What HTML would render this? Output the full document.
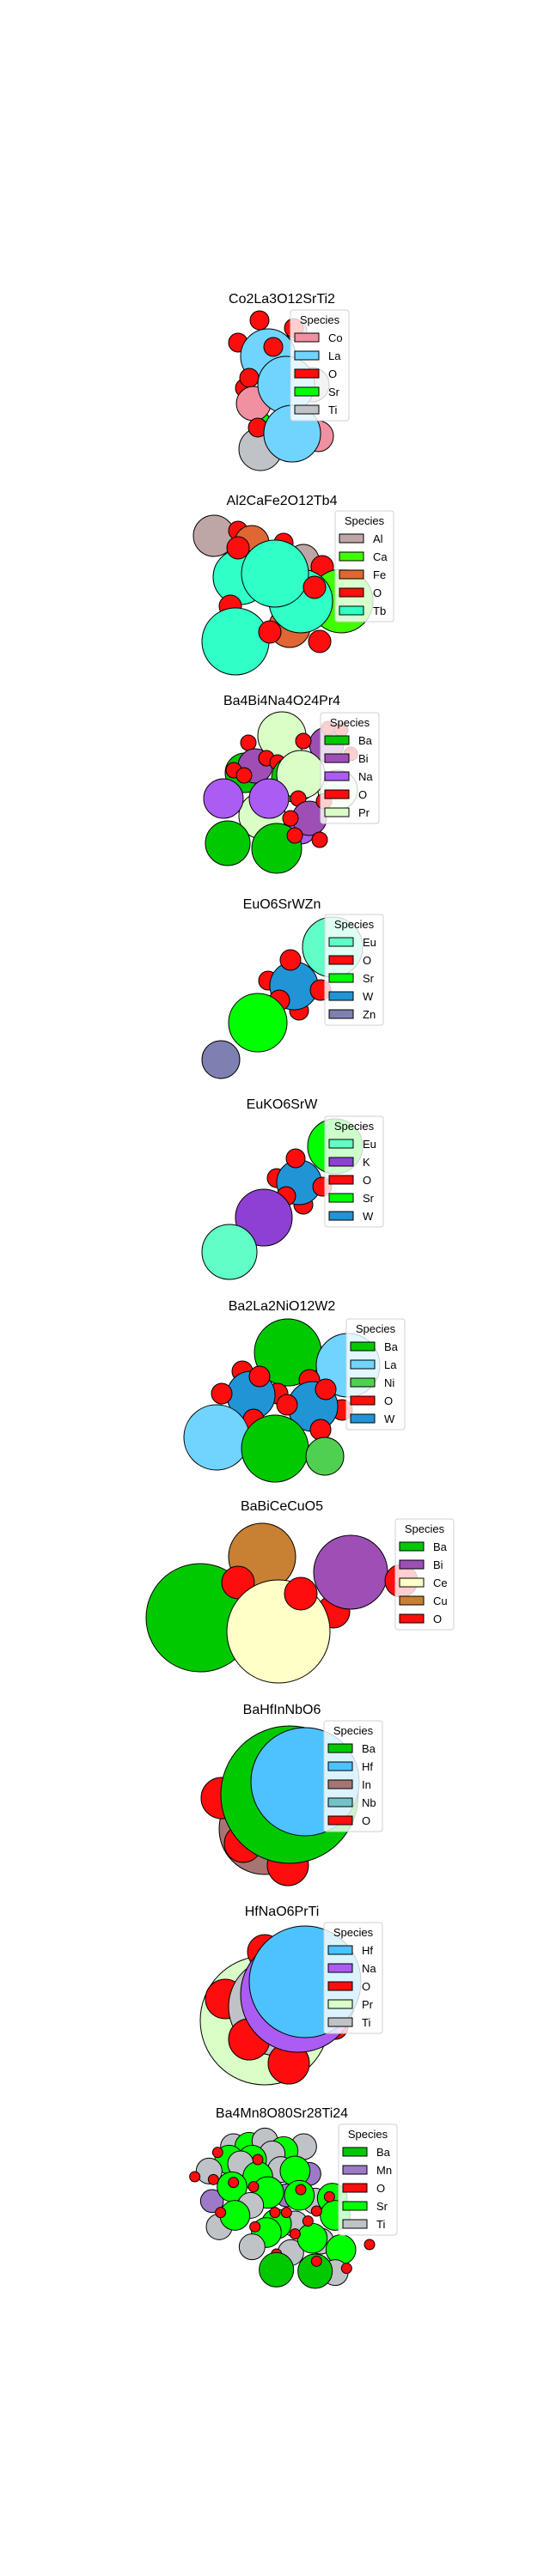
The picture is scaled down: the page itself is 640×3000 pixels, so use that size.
<!DOCTYPE html>
<html><head><meta charset="utf-8"><style>
html,body{margin:0;padding:0;background:#fff;}
svg{display:block;font-family:"Liberation Sans","DejaVu Sans",sans-serif;}
</style></head><body>
<svg id="fig" width="640" height="3000" viewBox="0 0 640 3000" xmlns="http://www.w3.org/2000/svg"></svg>
<script>
const colors={O:'#ff0d0d',La:'#70d4ff',Co:'#f090a0',Sr:'#00ff00',Ti:'#bfc2c7',Al:'#bfa6a6',Ca:'#3dff00',Fe:'#e06633',Tb:'#30ffc7',Ba:'#00c900',Bi:'#9e4fb5',Na:'#ab5cf2',Pr:'#d9ffc7',Eu:'#61ffc7',W:'#2194d6',Zn:'#7d80b0',K:'#8f40d4',Ni:'#50d050',Ce:'#ffffc7',Cu:'#c88033',Hf:'#4dc2ff',In:'#a67573',Nb:'#73c2c9',Mn:'#9c7ac7'};

const titles=['Co2La3O12SrTi2','Al2CaFe2O12Tb4','Ba4Bi4Na4O24Pr4','EuO6SrWZn','EuKO6SrW','Ba2La2NiO12W2','BaBiCeCuO5','BaHfInNbO6','HfNaO6PrTi','Ba4Mn8O80Sr28Ti24'];
const titleY=[347,582,815,1052,1285,1520,1753,1990,2225,2460];
const species=[['Co','La','O','Sr','Ti'],['Al','Ca','Fe','O','Tb'],['Ba','Bi','Na','O','Pr'],['Eu','O','Sr','W','Zn'],['Eu','K','O','Sr','W'],['Ba','La','Ni','O','W'],['Ba','Bi','Ce','Cu','O'],['Ba','Hf','In','Nb','O'],['Hf','Na','O','Pr','Ti'],['Ba','Mn','O','Sr','Ti']];
const legendBox=[[338,361],[390,595],[373,830],[378,1065],[378,1300],[403,1536],[460,1769],[377,2004],[377,2239],[394,2474]];

const atoms0=[['Co',345,385,12],['Ti',363,448,20],['Co',370,508,18],['Sr',308,487,5],['Ti',303,523,25],['O',302,373,11],['O',277,399,11],['O',342,382,11],['La',312,415,32],['O',318,404,11],['O',285,452,11],['O',290,440,11],['Co',295,470,20],['La',333,448,33],['O',300,498,11],['La',340,505,33]];
const atoms1=[['Al',249,624,24],['O',277,618,11],['Fe',293,632,20],['O',330,632,11],['Al',353,652,18],['Tb',280,672,32],['O',277,638,13],['O',375,660,13],['Ca',397,700,37],['Fe',337,730,24],['Tb',350,700,37],['Tb',320,668,39],['O',366,684,13],['O',268,706,13],['Tb',274,747,39],['O',314,736,13],['O',372,747,13]];
const atoms2=[['Pr',328,857,28],['Bi',380,867,20],['O',382,848,8],['O',397,850,8],['O',408,878,8],['O',289,865,9],['O',353,863,9],['Ba',285,900,23],['Bi',297,892,20],['O',310,883,9],['O',272,897,9],['O',284,903,9],['O',323,888,9],['Ba',343,907,27],['Pr',393,920,23],['Pr',350,902,28],['Pr',305,950,27],['Na',260,930,23],['Na',313,930,23],['O',347,930,9],['Na',350,965,18],['Bi',360,953,20],['O',338,953,9],['O',377,933,9],['Ba',265,982,26],['Ba',322,988,29],['O',343,973,9],['O',372,978,9]];
const atoms3=[['Eu',387,1103,35],['O',312,1142,11],['O',348,1177,11],['W',342,1148,28],['O',338,1118,12],['O',373,1153,12],['O',325,1165,12],['Sr',300,1191,34],['Zn',257,1234,22]];
const atoms4=[['Sr',390,1335,32],['O',322,1372,11],['O',353,1403,11],['W',348,1377,26],['O',344,1349,11],['O',375,1382,11],['O',333,1393,11],['K',307,1418,33],['Eu',267,1458,32]];
const atoms5=[['Ba',335,1575,39],['La',405,1590,37],['O',282,1597,12],['O',360,1607,12],['O',323,1623,12],['W',292,1625,28],['O',302,1603,12],['O',258,1623,12],['O',398,1642,12],['W',364,1638,29],['O',379,1618,12],['O',334,1636,12],['O',295,1653,12],['O',373,1665,12],['La',252,1674,38],['Ba',320,1687,39],['Ni',378,1696,22]];
const atoms6=[['Cu',305,1813,39],['Ba',233,1884,63],['O',277,1843,19],['O',388,1877,19],['Bi',408,1831,43],['O',467,1841,19],['Ce',324,1900,60],['O',350,1856,19]];
const atoms7=[['In',308,2130,53],['O',258,2094,24],['O',283,2147,22],['O',335,2172,24],['Ba',337,2090,80],['Hf',355,2075,63]];
const atoms8=[['Pr',308,2353,75],['O',308,2273,20],['O',262,2328,23],['Ti',323,2337,57],['O',390,2360,15],['O',290,2375,24],['O',336,2403,24],['Na',347,2323,67],['Hf',355,2308,65]];
// panel 10 in local zoom units (x3), placed with offset
const atoms9=[['Ti',245,180,45],['Sr',300,180,50],['Ti',355,160,45],['Ti',490,180,45],['Sr',420,195,50],['Ti',380,205,45],['Sr',230,225,50],['Sr',310,225,50],['Ti',270,240,45],['Ti',160,265,45],['Mn',510,275,40],['Ti',410,260,45],['Sr',460,265,52],['Sr',330,285,52],['Ti',530,370,45],['Sr',590,360,52],['Mn',170,370,40],['Mn',430,350,40],['Sr',240,320,52],['Sr',365,340,55],['Ti',305,385,45],['Sr',475,350,52],['Ti',195,460,45],['Sr',250,420,52],['Ti',460,450,45],['Sr',600,420,52],['Sr',395,450,52],['Sr',360,480,52],['Ti',310,530,45],['Ti',550,510,45],['Sr',620,540,52],['Ti',445,550,45],['Sr',520,500,52],['Ti',600,620,45],['O',190,200,18],['O',110,285,18],['O',175,295,18],['O',245,305,18],['O',315,320,18],['O',330,225,18],['O',390,410,18],['O',320,460,18],['O',460,485,18],['O',535,405,18],['O',505,440,18],['O',580,355,18],['O',720,522,18],['O',640,605,18],['O',395,555,18],['O',480,330,18],['O',200,410,18],['O',430,410,18],['Ba',395,610,60],['Ba',530,615,60],['O',535,580,18]];
const atomSets=[atoms0,atoms1,atoms2,atoms3,atoms4,atoms5,atoms6,atoms7,atoms8,atoms9];
const transforms=[[0,0,1],[0,0,1],[0,0,1],[0,0,1],[0,0,1],[0,0,1],[0,0,1],[0,0,1],[0,0,1],[190,2440,1/3]];

const NS='http://www.w3.org/2000/svg';
const svg=document.getElementById('fig');
function mk(tag,attrs,parent){const e=document.createElementNS(NS,tag);for(const k in attrs)e.setAttribute(k,attrs[k]);parent.appendChild(e);return e;}

titles.forEach((t,i)=>{
  const g=mk('g',{},svg);
  
  
  const tt=mk('text',{x:328,y:titleY[i]+6,'text-anchor':'middle','font-size':16,fill:'#000'},g);
  tt.textContent=t;
  
  
  const [ox,oy,s]=transforms[i];
  atomSets[i].forEach(a=>{
    const c=mk('circle',{cx:ox+a[1]*s,cy:oy+a[2]*s,r:a[3]*s,fill:colors[a[0]],stroke:'#000','stroke-width':1},g);
    
    
  });
  const [lx,ly]=legendBox[i];
  const lg=mk('g',{},g);
  
  
  mk('rect',{x:lx,y:ly,width:68,height:129,rx:3,fill:'rgba(255,255,255,0.8)',stroke:'#d0d0d0','stroke-width':1},lg);
  const h=mk('text',{x:lx+34,y:ly+16,'text-anchor':'middle','font-size':13,fill:'#000'},lg);
  h.textContent='Species';
  
  
  species[i].forEach((sp,j)=>{
    const yy=ly+32+j*21;
    const r=mk('rect',{x:lx+5,y:yy-5,width:28,height:10,fill:colors[sp],stroke:'#000','stroke-width':1},lg);
    
    
    const tx=mk('text',{x:lx+44,y:yy+5,'font-size':13,fill:'#000'},lg);
    tx.textContent=sp;
    
    
  });
});
</script>
</body></html>
